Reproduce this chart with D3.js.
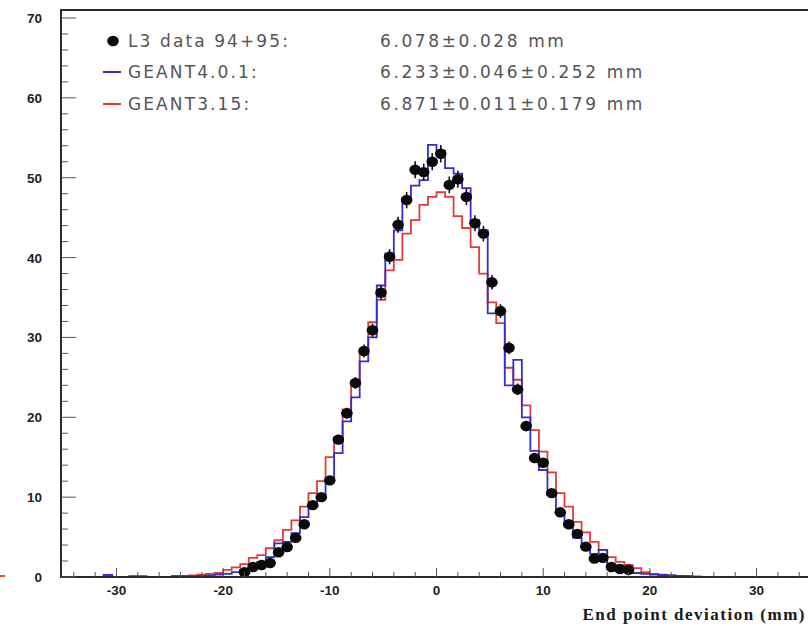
<!DOCTYPE html>
<html>
<head>
<meta charset="utf-8">
<script src="https://cdn.jsdelivr.net/npm/d3@7"></script>
<style>
  html, body { margin: 0; padding: 0; background: #fff; }
  svg { display: block; }
</style>
</head>
<body>
<svg id="chart" width="808" height="626"></svg>
<script>
// ---------------- data ----------------
const binStart = -35.2;   // mm, low edge of first histogram bin
const binWidth = 0.8;     // mm

// GEANT4.0.1 histogram (88 bins, -35.2 .. 35.2 mm)
const g4Values = [
  0, 0, 0, 0, 0, 0.25, 0, 0, 0.1, 0.1,
  0, 0, 0, 0.1, 0.1, 0.1, 0.15, 0.2, 0.3, 0.4,
  0.6, 0.9, 1.25, 1.9, 2.5, 4.2, 4.4, 5.5, 7.5, 8.8,
  10.0, 12.0, 15.5, 19.5, 22.5, 27.0, 30.0, 36.5, 40.5, 43.4,
  47.5, 49.0, 49.7, 54.1, 53.4, 51.2, 50.5, 48.7, 44.7, 43.4,
  33.0, 33.0, 24.0, 27.2, 20.0, 15.8, 13.4, 10.3, 8.0, 6.3,
  4.9, 3.8, 2.9, 3.4, 1.5, 1.0, 0.7, 0.5, 0.4, 0.3,
  0.25, 0.2, 0.15, 0.1, 0.05, 0, 0, 0, 0, 0,
  0, 0, 0, 0, 0, 0, 0, 0
];

// GEANT3.15 histogram (88 bins, -35.2 .. 35.2 mm)
const g3Values = [
  0, 0, 0, 0, 0, 0, 0, 0, 0, 0,
  0, 0, 0, 0.1, 0.15, 0.2, 0.3, 0.4, 0.5, 0.9,
  1.2, 1.6, 2.4, 2.75, 3.6, 4.6, 5.9, 7.1, 8.8, 10.5,
  12.0, 15.0, 17.5, 21.0, 24.5, 28.0, 31.9, 34.7, 38.4, 39.7,
  43.0, 44.7, 46.6, 47.6, 48.2, 47.6, 45.2, 43.7, 41.3, 38.0,
  34.4, 31.8, 26.2, 24.7, 21.5, 18.4, 15.7, 13.1, 10.5, 8.8,
  6.9, 5.6, 4.4, 3.4, 2.5, 1.9, 1.5, 1.1, 0.6, 0.4,
  0.3, 0.2, 0.15, 0.1, 0.05, 0, 0, 0, 0, 0,
  0, 0, 0, 0, 0, 0, 0, 0
];

// L3 data 94+95 points
const dataX = [
  -18.0, -17.2, -16.4, -15.6, -14.8, -14.0, -13.2, -12.4, -11.6, -10.8,
  -10.0, -9.2, -8.4, -7.6, -6.8, -6.0, -5.2, -4.4, -3.6, -2.8,
  -2.0, -1.2, -0.4, 0.4, 1.2, 2.0, 2.8, 3.6, 4.4, 5.2,
  6.0, 6.8, 7.6, 8.4, 9.2, 10.0, 10.8, 11.6, 12.4, 13.2,
  14.0, 14.8, 15.6, 16.4, 17.2, 18.0
];
const dataY = [
  0.6, 1.25, 1.5, 1.75, 3.1, 3.75, 4.9, 6.6, 9.0, 10.0,
  12.1, 17.2, 20.5, 24.3, 28.3, 30.9, 35.6, 40.1, 44.1, 47.2,
  51.0, 50.7, 52.0, 53.0, 49.1, 49.8, 47.6, 44.3, 43.0, 36.9,
  33.3, 28.7, 23.5, 18.9, 14.9, 14.3, 10.5, 8.1, 6.6, 5.4,
  3.8, 2.3, 2.4, 1.25, 1.0, 0.9
];
const dataErr = [
  0.12, 0.17, 0.18, 0.2, 0.26, 0.29, 0.33, 0.39, 0.45, 0.47,
  0.52, 0.62, 0.68, 0.74, 0.8, 0.83, 0.9, 0.95, 1.0, 1.03,
  1.07, 1.07, 1.08, 1.09, 1.05, 1.06, 1.03, 1.0, 0.98, 0.91,
  0.87, 0.8, 0.73, 0.65, 0.58, 0.57, 0.49, 0.43, 0.39, 0.35,
  0.29, 0.23, 0.23, 0.17, 0.15, 0.14
];

const xTicks = [-30, -20, -10, 0, 10, 20, 30];
const yTicks = [0, 10, 20, 30, 40, 50, 60, 70];

const legendLabels = ["L3 data 94+95:", "GEANT4.0.1:", "GEANT3.15:"];
const legendValues = ["6.078\u00b10.028 mm", "6.233\u00b10.046\u00b10.252 mm", "6.871\u00b10.011\u00b10.179 mm"];
const xTitle = "End point deviation (mm)";

// ---------------- drawing ----------------
(function () {
const svg = d3.select("#chart");
const mLeft = 61, mTop = 10, mBottom = 577, mRight = 812;

const x = d3.scaleLinear().domain([-35.2, 35.2]).range([mLeft, mRight]);
const y = d3.scaleLinear().domain([0, 71]).range([mBottom, mTop]);

const blue = "#2f2fd2", red = "#e23a3a", frame = "#2a2a2a";

// histograms
function stepPoints(vals) {
  const p = [];
  vals.forEach((v, i) => {
    const e0 = binStart + i * binWidth, e1 = e0 + binWidth;
    p.push([e0, v]); p.push([e1, v]);
  });
  return p;
}
const line = d3.line().x(d => x(d[0])).y(d => y(d[1]));

svg.append("path").attr("d", line(stepPoints(g3Values)))
  .attr("fill", "none").attr("stroke", red).attr("stroke-width", 1.8);
svg.append("path").attr("d", line(stepPoints(g4Values)))
  .attr("fill", "none").attr("stroke", blue).attr("stroke-width", 1.8);

// data points with error bars
const pts = svg.append("g");
dataX.forEach((xv, i) => {
  pts.append("line")
    .attr("x1", x(xv)).attr("x2", x(xv))
    .attr("y1", y(dataY[i] - dataErr[i])).attr("y2", y(dataY[i] + dataErr[i]))
    .attr("stroke", "#111").attr("stroke-width", 1.6);
  pts.append("ellipse")
    .attr("cx", x(xv)).attr("cy", y(dataY[i]))
    .attr("rx", 5.8).attr("ry", 5.2).attr("fill", "#0a0a0a");
});

// frame
svg.append("line").attr("x1", mLeft).attr("x2", mLeft).attr("y1", mTop - 1).attr("y2", mBottom + 1)
  .attr("stroke", frame).attr("stroke-width", 2);
svg.append("line").attr("x1", mLeft).attr("x2", 808).attr("y1", mTop).attr("y2", mTop)
  .attr("stroke", frame).attr("stroke-width", 2);
svg.append("line").attr("x1", mLeft).attr("x2", 808).attr("y1", mBottom).attr("y2", mBottom)
  .attr("stroke", frame).attr("stroke-width", 2);

// y axis ticks (inside)
d3.range(0, 71, 2).forEach(v => {
  const major = v % 10 === 0;
  svg.append("line").attr("x1", mLeft).attr("x2", mLeft + (major ? 15 : 7))
    .attr("y1", y(v)).attr("y2", y(v))
    .attr("stroke", "#555").attr("stroke-width", 1);
});
svg.append("g").selectAll("text").data(yTicks).join("text")
  .attr("x", 42).attr("y", d => y(d) + 5)
  .attr("text-anchor", "end")
  .attr("font-family", "Liberation Sans, Arial, sans-serif")
  .attr("font-weight", "bold").attr("font-size", 13.5)
  .attr("fill", "#222")
  .text(d => d);

// x axis ticks (inside)
d3.range(-34, 35, 2).forEach(v => {
  const major = v % 10 === 0;
  svg.append("line").attr("x1", x(v)).attr("x2", x(v))
    .attr("y1", mBottom).attr("y2", mBottom - (major ? 9 : 5))
    .attr("stroke", "#555").attr("stroke-width", 1);
});
svg.append("g").selectAll("text").data(xTicks).join("text")
  .attr("x", d => x(d)).attr("y", 595)
  .attr("text-anchor", "middle")
  .attr("font-family", "Liberation Sans, Arial, sans-serif")
  .attr("font-weight", "bold").attr("font-size", 13.5)
  .attr("fill", "#222")
  .text(d => d);

// x title
svg.append("text")
  .attr("x", 806).attr("y", 620)
  .attr("text-anchor", "end")
  .attr("font-family", "Liberation Serif, Times New Roman, serif")
  .attr("font-weight", "bold").attr("font-size", 17)
  .attr("letter-spacing", 1.5)
  .attr("fill", "#1a1a1a")
  .text(xTitle);

// legend
const legY = [41, 72, 104];
svg.append("ellipse").attr("cx", 113).attr("cy", legY[0]).attr("rx", 5.8).attr("ry", 5.2).attr("fill", "#0a0a0a");
svg.append("line").attr("x1", 103).attr("x2", 121).attr("y1", legY[1]).attr("y2", legY[1])
  .attr("stroke", blue).attr("stroke-width", 2);
svg.append("line").attr("x1", 103).attr("x2", 121).attr("y1", legY[2]).attr("y2", legY[2])
  .attr("stroke", red).attr("stroke-width", 2);

legendLabels.forEach((t, i) => {
  svg.append("text").attr("x", 128).attr("y", legY[i] + 6)
    .attr("font-family", "DejaVu Sans, Verdana, sans-serif")
    .attr("font-size", 17).attr("letter-spacing", 2.1)
    .attr("fill", "#555").text(t);
});
legendValues.forEach((t, i) => {
  svg.append("text").attr("x", 380).attr("y", legY[i] + 6)
    .attr("font-family", "DejaVu Sans, Verdana, sans-serif")
    .attr("font-size", 17).attr("letter-spacing", 2.6)
    .attr("fill", "#555").text(t);
});

// small red mark at the left edge
svg.append("line").attr("x1", 0).attr("x2", 5).attr("y1", 576).attr("y2", 576)
  .attr("stroke", "#e0502a").attr("stroke-width", 2);
})();
</script>
</body>
</html>
